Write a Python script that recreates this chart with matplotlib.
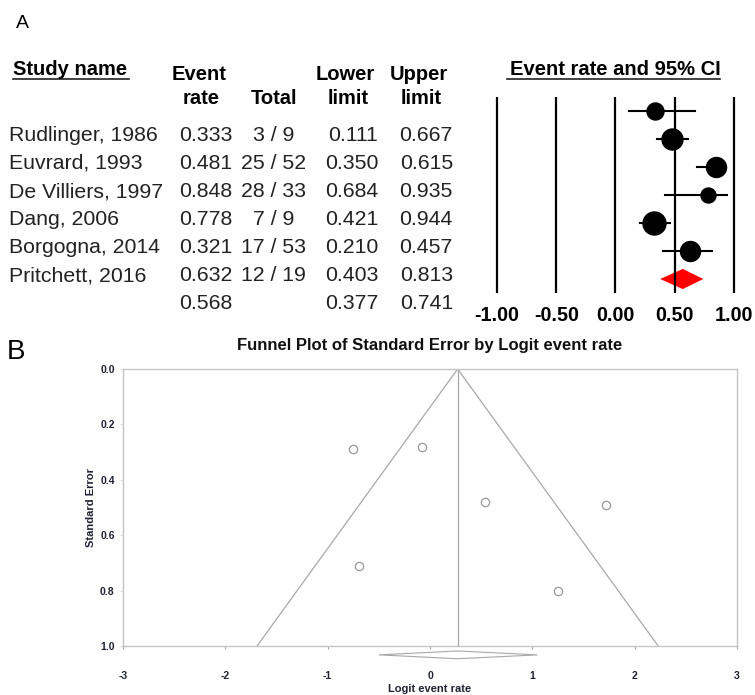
import matplotlib
matplotlib.use("Agg")
import matplotlib.pyplot as plt
from matplotlib.lines import Line2D

plt.rcParams['font.family'] = ['Liberation Sans', 'DejaVu Sans']
plt.rcParams['axes.unicode_minus'] = False

# ------------------ Data ------------------
studies = ['Rudlinger, 1986', 'Euvrard, 1993', 'De Villiers, 1997',
           'Dang, 2006', 'Borgogna, 2014', 'Pritchett, 2016']
event_rate = [0.333, 0.481, 0.848, 0.778, 0.321, 0.632]
events = [3, 25, 28, 7, 17, 12]
totals = [9, 52, 33, 9, 53, 19]
lower = [0.111, 0.350, 0.684, 0.421, 0.210, 0.403]
upper = [0.667, 0.615, 0.935, 0.944, 0.457, 0.813]
pooled_rate, pooled_lower, pooled_upper = 0.568, 0.377, 0.741
forest_ticks = [-1.0, -0.5, 0.0, 0.5, 1.0]

# funnel plot (logit scale)
logit_rate = [-0.69, -0.08, 1.72, 1.25, -0.75, 0.54]
std_err = [0.71, 0.28, 0.49, 0.80, 0.29, 0.48]
pooled_logit, pooled_logit_lo, pooled_logit_hi = 0.27, -0.50, 1.05
funnel_left_at_1, funnel_right_at_1 = -1.69, 2.23

W, H = 755, 695
fig = plt.figure(figsize=(W / 100, H / 100), dpi=100)


def ftext(x, y, s, **kw):
    # place text using pixel coordinates (origin top-left)
    fig.text(x / W, 1 - y / H, s, **kw)


def fline(x0, x1, y, lw=1.2):
    fig.add_artist(Line2D([x0 / W, x1 / W], [1 - y / H, 1 - y / H],
                          color='#222222', lw=lw, transform=fig.transFigure))


# ------------------ A: table ------------------
ftext(16, 24, 'A', fontsize=14, va='center', ha='left')

hdr = dict(fontsize=14.5, fontweight='bold', va='baseline')
ftext(13, 75, 'Study name', ha='left', **hdr)
fline(13, 129, 79)
ftext(199, 80, 'Event', ha='center', **hdr)
ftext(201, 103.5, 'rate', ha='center', **hdr)
ftext(274, 103.5, 'Total', ha='center', **hdr)
ftext(345, 80, 'Lower', ha='center', **hdr)
ftext(348, 103.5, 'limit', ha='center', **hdr)
ftext(419, 80, 'Upper', ha='center', **hdr)
ftext(421, 103.5, 'limit', ha='center', **hdr)

body = dict(fontsize=15.3, va='baseline', color='#222222')
row_y = 140.8
for i, name in enumerate(studies):
    y = row_y + i * 28.1
    ftext(9, y, name, ha='left', **body)
    ftext(232, y, f'{event_rate[i]:.3f}', ha='right', **body)
    ftext(273.5, y, f'{events[i]} / {totals[i]}', ha='center', **body)
    ftext(378, y, f'{lower[i]:.3f}', ha='right', **body)
    ftext(453, y, f'{upper[i]:.3f}', ha='right', **body)
y = row_y + len(studies) * 28.1
ftext(232, y, f'{pooled_rate:.3f}', ha='right', **body)
ftext(378, y, f'{pooled_lower:.3f}', ha='right', **body)
ftext(453, y, f'{pooled_upper:.3f}', ha='right', **body)

# ------------------ A: forest plot ------------------
axf = fig.add_axes([480 / W, 1 - 300 / H, 272 / W, 210 / H])
axf.set_xlim(-1.143, 1.152)
axf.set_ylim(6.75, -0.75)
axf.vlines(forest_ticks, -0.5, 6.5, color='black', lw=1.6)

marker_px = [17, 21, 20, 15, 23, 20]
for i in range(len(studies)):
    axf.plot([lower[i], upper[i]], [i, i], color='black', lw=1.5)
    axf.plot(event_rate[i], i, 'o', color='black', ms=marker_px[i] * 0.72)

k = len(studies)
axf.fill([pooled_lower, pooled_rate, pooled_upper, pooled_rate],
         [k, k - 0.36, k, k + 0.36], color='#ff0000', lw=0)

axf.set_xticks(forest_ticks)
axf.set_xticklabels([f'{t:.2f}' for t in forest_ticks],
                    fontsize=14.2, fontweight='bold')
axf.tick_params(axis='x', length=0, pad=4)
axf.set_yticks([])
for s in axf.spines.values():
    s.set_visible(False)

ftext(615, 75, 'Event rate and 95% CI', ha='center', **hdr)
fline(507, 720, 79)

# ------------------ B: funnel plot ------------------
ftext(7, 352, 'B', fontsize=20, va='center', ha='left')

grey = '#a8a8a8'
lab = '#1f2233'
axb = fig.add_axes([123 / W, 1 - 646 / H, 614 / W, 277 / H])
axb.set_xlim(-3, 3)
axb.set_ylim(1.0, 0.0)

axb.plot([funnel_left_at_1, pooled_logit, funnel_right_at_1], [1, 0, 1],
         color=grey, lw=0.9)
axb.plot([pooled_logit, pooled_logit], [0, 1], color=grey, lw=0.9)
axb.plot(logit_rate, std_err, 'o', mfc='white', mec='#999999',
         mew=0.9, ms=6)

dy = 1.032
axb.fill([pooled_logit_lo, pooled_logit, pooled_logit_hi, pooled_logit],
         [dy, dy - 0.014, dy, dy + 0.014], facecolor='white',
         edgecolor=grey, lw=0.8, clip_on=False)

for s in axb.spines.values():
    s.set_color('#c4c4c4')
    s.set_linewidth(1.0)

axb.set_xticks(range(-3, 4))
axb.set_yticks([0.0, 0.2, 0.4, 0.6, 0.8, 1.0])
axb.set_yticklabels([f'{v:.1f}' for v in axb.get_yticks()])
axb.tick_params(axis='x', length=2, color='#aaaaaa', pad=16,
                labelsize=7.5, labelcolor=lab)
axb.tick_params(axis='y', length=2, color='#dddddd', pad=4,
                labelsize=7.5, labelcolor=lab)
for t in axb.get_xticklabels() + axb.get_yticklabels():
    t.set_fontweight('bold')

axb.set_xlabel('Logit event rate', fontsize=8, fontweight='bold',
               color=lab, labelpad=2)
axb.set_ylabel('Standard Error', fontsize=8, fontweight='bold',
               color=lab, labelpad=3)
axb.set_title('Funnel Plot of Standard Error by Logit event rate',
              fontsize=12, fontweight='bold', color='#111111', pad=14)

fig.savefig('out.png', dpi=100)
